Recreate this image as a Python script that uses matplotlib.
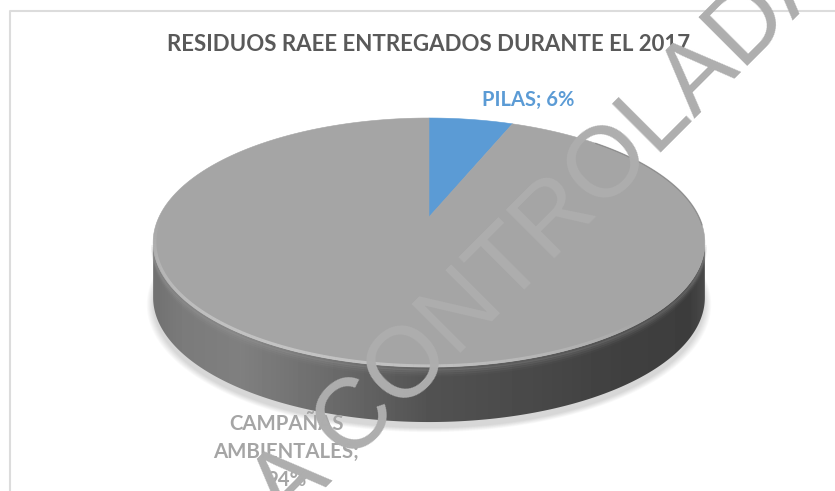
import numpy as np
import matplotlib
matplotlib.use('Agg')
import matplotlib.pyplot as plt
from matplotlib.patches import Polygon

title = 'RESIDUOS RAEE ENTREGADOS DURANTE EL 2017'
categories = ['PILAS', 'CAMPAÑAS\nAMBIENTALES']
values = [6, 94]
colors = ['#5b9bd5', '#a5a5a5']
watermark = 'A CONTROLADA'

W, H = 835, 491
fig = plt.figure(figsize=(W/100, H/100), dpi=100, facecolor='white')
ax = fig.add_axes([0, 0, 1, 1])
ax.set_xlim(0, W); ax.set_ylim(H, 0); ax.axis('off')
plt.rcParams['font.family'] = ['Lato', 'DejaVu Sans']

# perspective projection of the unit disc
CX, R, AY, PA, PC = 429, 270, 217, -74.8, 0.205
def project(theta, r=1.0, dy=0.0):
    u, v = r*np.sin(theta), r*np.cos(theta)
    d = PC*v + 1
    return CX + R*u/d, (PA*v + AY)/d + dy

full = np.linspace(0, 2*np.pi, 361)
DEPTH = 55

# frame of the pasted picture
ax.plot([9.5, 9.5, W], [H, 11, 11], color='#dcdcdc', lw=1.5, zorder=0)

# soft shadow
for grow in np.linspace(1.022, 1.0, 8):
    x, y = project(full, r=grow, dy=DEPTH+6)
    ax.fill(x, y, color='black', alpha=0.018, lw=0, zorder=1)

# side wall with horizontal shading
xt, yt = project(full)
lo = np.argmin(xt); hi = np.argmax(xt)
theta_side = np.linspace(full[hi], full[lo], 200)
xs1, ys1 = project(theta_side)
xs2, ys2 = project(theta_side, dy=DEPTH)
wall = Polygon(np.r_[np.c_[xs1, ys1], np.c_[xs2, ys2][::-1]], closed=True,
               fc='none', ec='none', zorder=2)
ax.add_patch(wall)
stops_x = [153, 180, 240, 330, 430, 520, 620, 690, 705]
stops_v = [0.44, 0.48, 0.50, 0.42, 0.32, 0.29, 0.25, 0.24, 0.29]
gx = np.arange(150, 710)
grad = np.interp(gx, stops_x, stops_v)[None, :]
im = ax.imshow(grad, extent=[150, 710, 430, 230], cmap='gray', vmin=0, vmax=1,
               aspect='auto', zorder=2)
im.set_clip_path(wall)
ax.set_xlim(0, W); ax.set_ylim(H, 0)

# soft transition down from the rim
for dy, a in zip([2, 4, 6, 8], [0.2, 0.13, 0.08, 0.04]):
    x, y = project(theta_side, dy=dy)
    ax.plot(x, y, color='#a5a5a5', alpha=a, lw=2.5, zorder=2.5, solid_capstyle='butt')

# top face slices, clockwise from 12 o'clock, sizes from the values
edges = np.r_[0, np.cumsum(values)] / np.sum(values) * 2*np.pi
for a, b, c in zip(edges[:-1], edges[1:], colors):
    th = np.linspace(a, b, 240)
    x, y = project(th)
    ax.add_patch(Polygon(np.r_[[[CX, AY]], np.c_[x, y]], closed=True, fc=c, ec=c, lw=0.4, zorder=3))

# bevel: soft light front rim fading to the right, thin dark rear-right rim
th = np.linspace(np.pi*0.75, np.pi*1.5, 120)
fade = np.sin((th - th[0]) / (th[-1] - th[0]) * np.pi)
for i in range(len(th) - 1):
    x, y = project(th[i:i+2], r=0.994)
    ax.plot(x, y, color='white', alpha=0.34*fade[i], lw=2.2, zorder=4, solid_capstyle='butt')
th = np.linspace(np.pi*0.25, np.pi*0.52, 100)
x, y = project(th)
ax.plot(x, y, color='#505050', alpha=0.35, lw=1.0, zorder=4)

# texts
ax.text(429, 44, title, ha='center', va='center', fontsize=16, fontweight='bold',
        color='#595959', zorder=5)
lab = f'{categories[0]}; {values[0]}%'
ax.text(528, 100, lab, ha='center', va='center', fontsize=14.5, fontweight='bold',
        color=colors[0], zorder=5)
lab2 = f'{categories[1]};\n{values[1]}%'
ax.text(286, 452, lab2, ha='center', va='center', fontsize=14.7, fontweight='bold',
        color=colors[1], linespacing=1.47, zorder=5)

# diagonal watermark
ax.text(286, 527, watermark, ha='left', va='baseline', rotation=45,
        rotation_mode='anchor', fontsize=72, family=['Liberation Sans', 'DejaVu Sans'],
        color='#aeaeae', zorder=6)

fig.savefig('out.png', dpi=100, facecolor='white')
